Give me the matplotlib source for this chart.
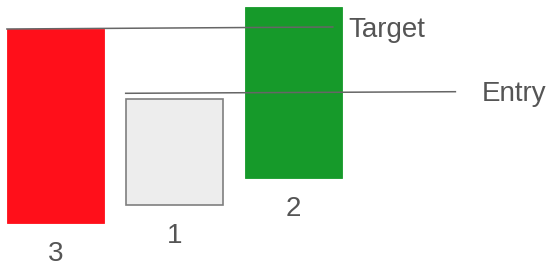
import matplotlib
matplotlib.use("Agg")
import matplotlib.pyplot as plt

plt.rcParams['font.family'] = ['Liberation Sans', 'DejaVu Sans']

# data (vertical units, bottom of canvas = 0)
labels = ["3", "1", "2"]
lows = [43, 61, 88]
highs = [237, 167, 259]
colors = ["#ff0f1a", "#ededed", "#169a2a"]
edges = ["#ff0f1a", "#7f7f7f", "#169a2a"]

target_level = [237, 239]
target_span = [-0.408, 2.33]
entry_level = [172.7, 174.3]
entry_span = [0.59, 3.36]

fig = plt.figure(figsize=(5.5, 2.66), dpi=100)
ax = fig.add_axes([0, 0, 1, 1])
ax.set_xlim(-0.466, 4.155)
ax.set_ylim(0, 266)
ax.axis("off")

x = list(range(len(labels)))
heights = [h - l for h, l in zip(highs, lows)]
ax.bar(x, heights, bottom=lows, width=0.815, color=colors, edgecolor=edges,
       linewidth=[0.6, 1.2, 0.6], zorder=2)

ax.plot(target_span, target_level, color="#666666", lw=1.1, zorder=3)
ax.plot(entry_span, entry_level, color="#666666", lw=1.1, zorder=3)

txt = dict(fontsize=20, color="#555555", va="center", ha="left")
ax.annotate("Target", (target_span[1] + 0.13, target_level[1]),
            xytext=(0, -2), textcoords="offset points", **txt)
ax.annotate("Entry", (entry_span[1] + 0.22, entry_level[1]),
            xytext=(0, -1.5), textcoords="offset points", **txt)

for xi, lo, lab in zip(x, lows, labels):
    ax.annotate(lab, (xi, lo), xytext=(0, -22), textcoords="offset points",
                ha="center", va="center", fontsize=20, color="#555555")

fig.savefig("out.png", dpi=100)
